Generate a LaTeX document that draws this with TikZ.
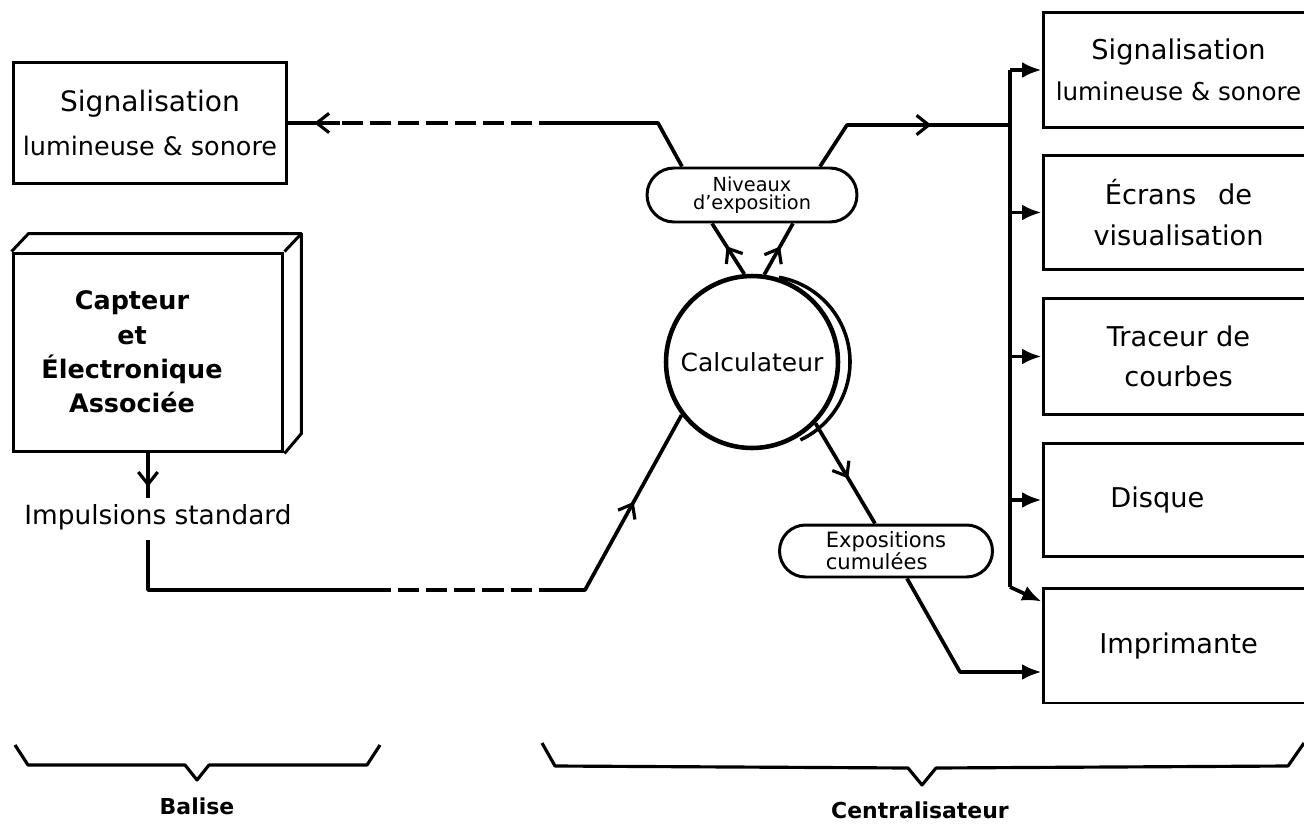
\documentclass[tikz,border=0pt]{standalone}
\usepackage{fontspec}
\setmainfont{DejaVu Sans}
\usetikzlibrary{arrows.meta,decorations.markings,shapes.misc,calc}
\begin{document}
\begin{tikzpicture}[x=0.02cm,y=-0.02cm,
  conn/.style={line width=2.1pt, line join=round},
  bx/.style={draw, line width=1.7pt, rectangle, inner sep=0pt},
  pill/.style={draw, rounded rectangle, line width=1.7pt, inner sep=0pt},
  rbox/.style={bx, minimum width=5.42cm, align=center, font=\fontsize{15.5}{23}\selectfont},
  marr/.style={postaction={decorate},decoration={markings,mark=at position #1 with {\arrow{Straight Barb[length=7pt,width=11pt,line width=1.8pt]}}}},
  endtip/.style={-{Latex[length=11pt,width=9pt]}},
  dsh/.style={dash pattern=on 12pt off 4pt},
  brace/.style={line width=1.8pt, line join=round},
]
\useasboundingbox (0,0) rectangle (1304,824);
\clip (0,0) rectangle (1304,824);

% left side
\node[bx, minimum width=5.48cm, minimum height=2.44cm, align=center, font=\fontsize{16}{25.5}\selectfont] (sigL) at (150,123)
  {Signalisation\\{\fontsize{14.5}{25.5}\selectfont lumineuse \& sonore}};

\node[bx, minimum width=5.4cm, minimum height=3.98cm] (capt) at (148,352.5) {};
\draw[line width=1.7pt, line join=round] (capt.north west) -- ++(17,-18) -- ($(capt.north east)+(17,-18)$) -- ($(capt.south east)+(17,-20)$) -- (capt.south east);
\draw[line width=1.7pt] (capt.north east) -- ++(17,-18);
\node[align=center, font=\bfseries\fontsize{14.5}{19.5}\selectfont] (captt) at (132,352) {Capteur\\et\\Électronique\\Associée};

\node[font=\fontsize{15}{18}\selectfont] (imp) at (158,517) {Impulsions standard};

% centre
\node[circle, draw, line width=2.6pt, minimum size=3.44cm, inner sep=0pt, font=\fontsize{14.2}{17}\selectfont] (calc) at (752,362) {Calculateur};
\draw[line width=2pt] ($(calc.center)+(12,0)$) ++(-80:86) arc[start angle=-80, end angle=65, radius=86];

\node[pill, minimum width=4.2cm, minimum height=1.08cm, align=center, font=\fontsize{11}{10.5}\selectfont] (niv) at (752,195) {Niveaux\\d’exposition};
\node[pill, minimum width=4.26cm, minimum height=1.04cm, align=left, font=\fontsize{12}{12.5}\selectfont] (expo) at (886,551) {Expositions\\cumulées};

% right boxes
\node[rbox, minimum height=2.32cm] (box1) at (1178.5,70) {Signalisation\\{\fontsize{14}{23}\selectfont lumineuse \& sonore}};
\node[rbox, minimum height=2.3cm] (box2) at (1178.5,212.5) {Écrans\hspace{0.8em}de\\visualisation};
\node[rbox, minimum height=2.34cm] (box3) at (1178.5,356.5) {Traceur de\\courbes};
\node[rbox, minimum height=2.26cm] (box4) at (1178.5,500) {Disque\hspace{24pt}};
\node[rbox, minimum height=2.3cm] (box5) at (1178.5,645.5) {Imprimante};

% coordinates
\coordinate (t1) at (658,123);
\coordinate (t2) at (560,123);
\coordinate (t3) at (340,123);
\coordinate (r1) at (847,125);
\coordinate (bj) at (1010,125);
\coordinate (bb) at (1010,587);
\coordinate (b0) at (148,540);
\coordinate (b1) at (148,590);
\coordinate (b2) at (370,590);
\coordinate (b3) at (560,590);
\coordinate (b4) at (585,590);
\coordinate (ye) at (148,498);
\coordinate (e1) at (960,672);

% connectors
\draw[conn] ([xshift=-1.4cm]niv.north) -- (t1) -- (t2);
\draw[conn,dsh] (t2) -- (t3);
\draw[conn,marr=0.5] (t3) -- (sigL.east);

\draw[conn,marr=0.63] ([xshift=1.36cm]niv.north) -- (r1) -- (bj);

\draw[conn,marr=0.55] (calc.95) -- ([xshift=-0.8cm]niv.south);
\draw[conn,marr=0.55] (calc.82) -- ([xshift=0.82cm]niv.south);

\draw[conn,marr=0.75] (capt.south) -- (ye);
\draw[conn] (b0) -- (b1) -- (b2);
\draw[conn,dsh] (b2) -- (b3);
\draw[conn,marr=0.56] (b3) -- (b4) -- (calc.217);

\draw[conn,marr=0.55] (calc.316) -- ([xshift=-0.22cm]expo.north);
\draw[conn,endtip] ([xshift=0.42cm]expo.south) -- (e1) -- (e1 -| box5.west);

\draw[conn] (bj |- box1.west) -- (bb);
\draw[conn,endtip] (bj |- box1.west) -- (box1.west);
\draw[conn,endtip] (bj |- box2.west) -- (box2.west);
\draw[conn,endtip] (bj |- box3.west) -- (box3.west);
\draw[conn,endtip] (bj |- box4.west) -- (box4.west);
\draw[conn,endtip] (bb) -- ([yshift=-0.3cm]box5.north west);

% braces
\draw[brace] (15,745) -- (28,765) -- (185,765) -- (197,780) -- (209,765) -- (367,765) -- (380,745);
\draw[brace] (542,743) -- (555,766) -- (908,768) -- (922,785) -- (936,768) -- (1288,766) -- (1304,743);
\node[font=\bfseries\fontsize{12.5}{15}\selectfont] (bal) at (197,806) {Balise};
\node[font=\bfseries\fontsize{12.5}{15}\selectfont] (cen) at (920,810) {Centralisateur};
\end{tikzpicture}
\end{document}
